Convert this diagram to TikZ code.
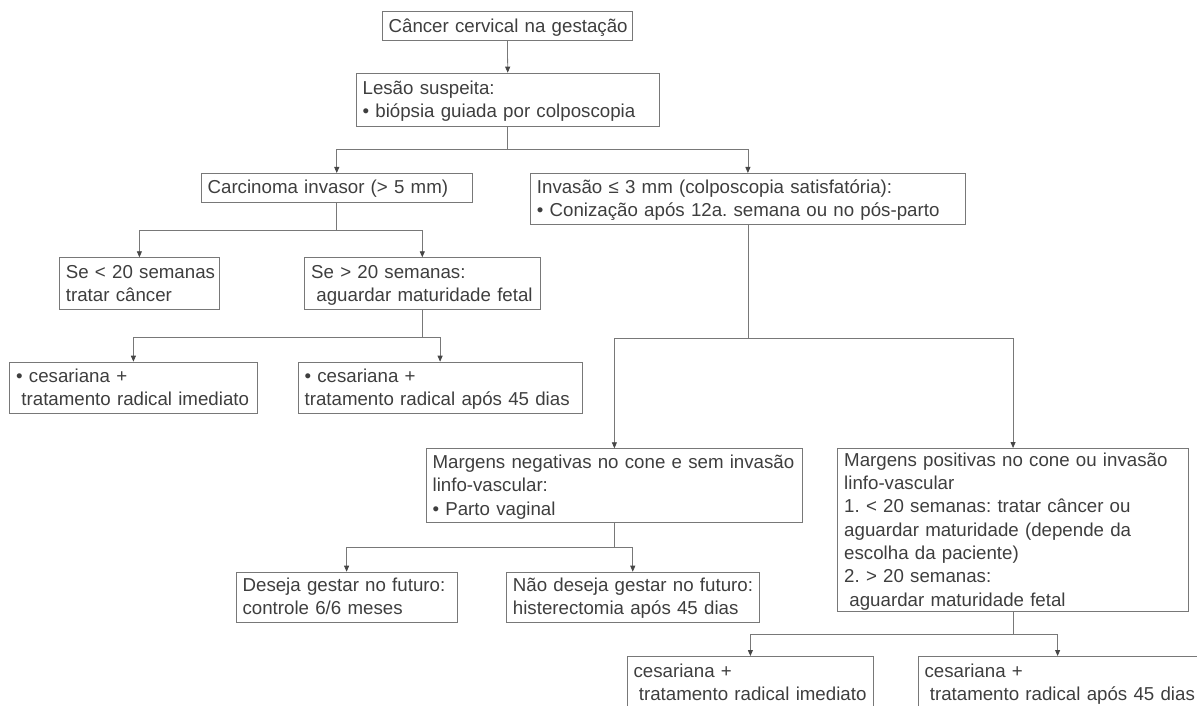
\documentclass[tikz,border=0pt]{standalone}
\usepackage{fontspec}
\setmainfont{Liberation Sans}
\usetikzlibrary{arrows.meta}
\definecolor{txt}{RGB}{62,62,62}
\definecolor{ln}{RGB}{120,120,120}
\definecolor{tipc}{RGB}{70,70,70}
\newcommand\mystrut{\rule[-5.5pt]{0pt}{23.3pt}}
\newcommand\TL[1]{\mbox{\mystrut#1}}
\newcommand\ind{\hspace*{0.28em}}
\frenchspacing
\tikzset{
  box/.style={draw=ln, line width=0.8pt, text=txt, anchor=north west,
    inner xsep=6.5pt, inner ysep=0pt, align=left,
    font=\fontsize{18.7}{23.3}\selectfont\frenchspacing},
  conn/.style={draw=ln, line width=0.8pt,
    -{Triangle[width=5pt,length=6pt,color=tipc]}}
}
\begin{document}
\begin{tikzpicture}[x=1pt,y=-1pt]
\useasboundingbox (0,0) rectangle (1197,706);
\clip (0,0) rectangle (1197,706);

\node[box, text width=237.6pt, minimum height=29.6pt] (b1) at (381.7,10.7)
  {\TL{Câncer cervical na gestação}};
\node[box, text width=290.3pt, minimum height=53.3pt] (b2) at (355.7,72.7)
  {\TL{Lesão suspeita:}\\\TL{• biópsia guiada por colposcopia}};
\node[box, text width=258.3pt, minimum height=28.7pt] (b3) at (200.7,173)
  {\TL{Carcinoma invasor (> 5 mm)}};
\node[box, text width=422pt, minimum height=51pt] (b4) at (530,173)
  {\TL{Invasão ≤ 3 mm (colposcopia satisfatória):}\\\TL{• Conização após 12a. semana ou no pós-parto}};
\node[box, text width=147pt, minimum height=51.7pt] (b5) at (59,257.3)
  {\TL{Se < 20 semanas}\\\TL{tratar câncer}};
\node[box, text width=222.2pt, minimum height=51.7pt] (b6) at (304.3,257.3)
  {\TL{Se > 20 semanas:}\\\TL{\ind aguardar maturidade fetal}};
\node[box, text width=234.4pt, minimum height=51.6pt] (b7) at (9.3,361.7)
  {\TL{• cesariana +}\\\TL{\ind tratamento radical imediato}};
\node[box, text width=271pt, minimum height=51.6pt] (b8) at (297.7,361.7)
  {\TL{• cesariana +}\\\TL{tratamento radical após 45 dias}};
\node[box, text width=363.6pt, minimum height=74pt] (b9) at (425.7,448.3)
  {\TL{Margens negativas no cone e sem invasão}\\\TL{linfo-vascular:}\\\TL{• Parto vaginal}};
\node[box, text width=337.7pt, minimum height=163pt] (b10) at (837.3,448)
  {\TL{Margens positivas no cone ou invasão}\\\TL{linfo-vascular}\\\TL{1. < 20 semanas: tratar câncer ou}\\\TL{aguardar maturidade (depende da}\\\TL{escolha da paciente)}\\\TL{2. > 20 semanas:}\\\TL{\ind aguardar maturidade fetal}};
\node[box, text width=208pt, minimum height=50pt] (b11) at (235.7,571.7)
  {\TL{Deseja gestar no futuro:}\\\TL{controle 6/6 meses}};
\node[box, text width=239.7pt, minimum height=50pt] (b12) at (506,571.7)
  {\TL{Não deseja gestar no futuro:}\\\TL{histerectomia após 45 dias}};
\node[box, text width=233.6pt, minimum height=53pt] (b13) at (626.7,656)
  {\TL{cesariana +}\\\TL{\ind tratamento radical imediato}};
\node[box, text width=266pt, minimum height=53pt] (b14) at (917.7,656)
  {\TL{cesariana +}\\\TL{\ind tratamento radical após 45 dias}};

\draw[conn] (b1.south) -- (b2.north);
\draw[conn] (b2.south) -- ++(0,23) -| (b3.north);
\draw[conn] (b2.south) -- ++(0,23) -| (b4.north);
\draw[conn] (b3.south) -- ++(0,28.3) -| (b5.north);
\draw[conn] (b3.south) -- ++(0,28.3) -| (b6.north);
\draw[conn] (b6.south) -- ++(0,27.7) -| (b7.north);
\draw[conn] (b6.south) -- ++(0,27.7) -| (b8.north);
\draw[conn] (b4.south) -- ++(0,113.3) -| (b9.north);
\draw[conn] (b4.south) -- ++(0,113.3) -| (b10.north);
\draw[conn] (b9.south) -- ++(0,24.4) -| (b11.north);
\draw[conn] (b9.south) -- ++(0,24.4) -| (b12.north);
\draw[conn] (b10.south) -- ++(0,22.3) -| (b13.north);
\draw[conn] (b10.south) -- ++(0,22.3) -| (b14.north);
\end{tikzpicture}
\end{document}
